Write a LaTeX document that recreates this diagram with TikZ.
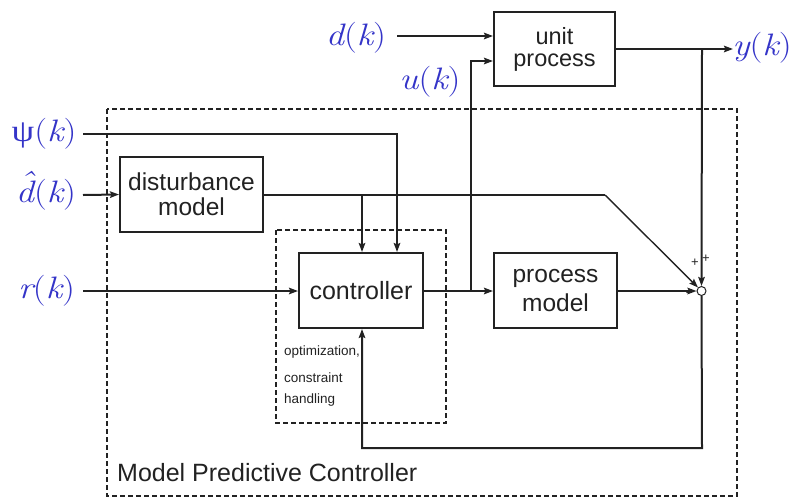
\documentclass[tikz,border=0pt]{standalone}
\usepackage{graphicx}
\usepackage{fontspec}
\setmainfont{Liberation Sans}
\newfontfamily\psifont{Liberation Serif}
\newfontfamily\lmr{Latin Modern Roman}
\usetikzlibrary{arrows.meta}
\definecolor{sigblue}{RGB}{52,52,200}
\definecolor{ink}{RGB}{34,34,34}
% signal name: italic letter followed by the (k) argument, set slightly wide
\newcommand{\argk}{{\lmr(}{\lmr\itshape k}{\lmr)}}
\newcommand{\sigof}[1]{\scalebox{1.17}[1]{{\lmr\itshape #1}\argk}}
% estimated disturbance: d with a circumflex placed over its bowl
\newcommand{\dhat}{\rlap{\hspace{0.5pt}\raisebox{10pt}{\lmr ˆ}}{\lmr\itshape d}}
\begin{document}
\begin{tikzpicture}[x=1pt,y=-1pt,
  wire/.style={line width=2pt,draw=ink},
  arr/.style={wire,-{Stealth[length=9pt,width=6.5pt,inset=1.5pt]}},
  block/.style={draw=ink,line width=2pt,rectangle,inner sep=0pt,align=center,text=ink},
  sig/.style={text=sigblue,inner sep=0pt,anchor=base,font=\fontsize{31}{36}\selectfont},
  note/.style={text=ink,inner sep=0pt,anchor=base west,font=\fontsize{13.5}{16}\selectfont},
  sign/.style={text=ink,inner sep=0pt,font=\fontsize{13}{14}\selectfont}]
\useasboundingbox (0,0) rectangle (794,498);

% enclosures
\draw[ink,line width=2pt,dash pattern=on 5pt off 3pt] (107,109) rectangle (737,496);
\draw[ink,line width=1.6pt,dash pattern=on 5pt off 3pt] (276,230) rectangle (446,423);

% blocks
\node[block,minimum width=121pt,minimum height=74pt,font=\fontsize{23.5}{22}\selectfont]
  (up) at (554.5,49) {unit\\process};
\node[block,minimum width=143pt,minimum height=75pt,font=\fontsize{24.5}{25}\selectfont]
  (dist) at (191.5,194.5) {disturbance\\model};
\node[block,minimum width=124pt,minimum height=75pt,font=\fontsize{25}{29}\selectfont]
  (ctrl) at (361,290.5) {controller};
\node[block,minimum width=123pt,minimum height=75pt,font=\fontsize{24.5}{29}\selectfont]
  (pm) at (555.5,290.5) {process\\model};
\node[circle,draw=ink,fill=white,line width=1pt,minimum size=9pt,inner sep=0pt]
  (sum) at (701.5,291) {};

% signal labels
\node[sig] (dlab) at (356,45.5) {\sigof{d}};
\node[sig] (ulab) at (430,89.5) {\sigof{u}};
\node[sig] (ylab) at (762,55) {\sigof{y}};
\node[sig] (psilab) at (44,141) {\scalebox{1.17}[1]{{\psifont ψ}\argk}};
\node[sig] (dhlab) at (46,202.5) {\sigof{\dhat}};
\node[sig] (rlab) at (46.5,298.5) {\sigof{r}};

% connector end points and bends
\coordinate (dIn) at (397,36);
\coordinate (psiIn) at (83,134);
\coordinate (psiBend) at (397,134);
\coordinate (dhIn) at (83,195);
\coordinate (dBranch) at (362,195);
\coordinate (dBend) at (605,195);
\coordinate (rIn) at (83,291);
\coordinate (uBranch) at (471,291);
\coordinate (uTop) at (471,61);
\coordinate (yEnd) at (733,49);
\coordinate (yBranch) at (702,49);
\coordinate (fbRight) at (702,448);
\coordinate (fbLeft) at (362,448);

% plant side
\draw[arr] (dIn) -- (dIn -| up.west);
\draw[arr] (uBranch) -- (uTop) -- (uTop -| up.west);
\draw[arr] (up.east |- yEnd) -- (yEnd);
\draw[arr] (yBranch) -- (sum.north);

% controller inputs
\draw[arr] (psiIn) -- (psiBend) -- (psiBend |- ctrl.north);
\draw[arr] (dhIn) -- (dist.west);
\draw[wire] (dist.east |- dBend) -- (dBend);
\draw[ink,line width=1.4pt,-{Stealth[length=9pt,width=6.5pt,inset=1.5pt]}] (dBend) -- (sum.north west);
\draw[arr] (dBranch) -- (dBranch |- ctrl.north);
\draw[arr] (rIn) -- (ctrl.west |- rIn);

% controller output, model and feedback
\draw[arr] (ctrl.east |- uBranch) -- (pm.west |- uBranch);
\draw[arr] (pm.east |- sum) -- (sum.west);
\draw[arr] (sum.south) -- (fbRight) -- (fbLeft) -- (fbLeft |- ctrl.south);

% summing junction signs
\node[sign] at (695,263) {+};
\node[sign] at (706,259) {+};
\node[sign] at (688,295) {-};

% notes
\node[note] at (284,355) {optimization,};
\node[note] at (284,382) {constraint};
\node[note] at (284,403) {handling};
\node[text=ink,inner sep=0pt,anchor=base west,font=\fontsize{25}{30}\selectfont]
  at (117,481) {Model Predictive Controller};
\end{tikzpicture}
\end{document}
